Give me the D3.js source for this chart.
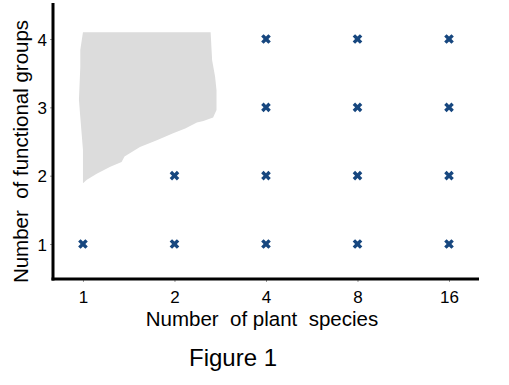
<!DOCTYPE html>
<html>
<head>
<meta charset="utf-8">
<script src="https://cdn.jsdelivr.net/npm/d3@7"></script>
<style>
  html, body { margin: 0; padding: 0; background: #fff; }
  svg { display: block; font-family: "Liberation Sans", Arial, sans-serif; }
</style>
</head>
<body>
<svg id="chart" width="509" height="385"></svg>
<script>
// ---- data ----
const speciesTicks = [1, 2, 4, 8, 16];
const groupTicks = [1, 2, 3, 4];
const pointSpecies = [1, 2, 4, 8, 16, 2, 4, 8, 16, 4, 8, 16, 4, 8, 16];
const pointGroups  = [1, 1, 1, 1, 1,  2, 2, 2, 2,  3, 3, 3,  4, 4, 4];
// gray region outline (species, groups)
const regionSpecies = [1.0, 2.63, 2.66, 2.72, 2.75, 2.75, 2.68, 2.49, 2.37, 2.17, 1.98, 1.75, 1.54, 1.37, 1.34, 1.23, 1.11, 1.03, 1.0, 1.0, 0.98, 0.97, 0.98, 0.98];
const regionGroups  = [4.10, 4.10, 3.69, 3.45, 3.25, 2.96, 2.85, 2.80, 2.78, 2.69, 2.62, 2.52, 2.42, 2.28, 2.20, 2.13, 2.03, 1.94, 1.89, 2.38, 2.86, 3.11, 3.59, 3.84];
const xTitle = "Number  of plant  species";
const yTitle = "Number  of functional groups";
const caption = "Figure 1";

// ---- layout ----
const svg = d3.select("#chart");
const mLeft = 53, mRight = 479, mTop = 3, mBottom = 279;

const x = d3.scaleLog().base(2).domain([0.797, 20.08]).range([mLeft, mRight]);
const y = d3.scaleLinear().domain([0.488, 4.527]).range([mBottom, mTop]);

// gray region
const region = regionSpecies.map((s, i) => [x(s), y(regionGroups[i])]);
svg.append("path")
  .attr("d", d3.line().curve(d3.curveLinearClosed)(region))
  .attr("fill", "#dcdcdc")
  .attr("stroke", "none");

// markers
const sym = d3.symbol().type(d3.symbolCross).size(58);
svg.append("g").selectAll("path")
  .data(pointSpecies.map((s, i) => ({s, g: pointGroups[i]})))
  .join("path")
  .attr("d", sym)
  .attr("transform", d => `translate(${x(d.s)},${y(d.g)}) rotate(45)`)
  .attr("fill", "#17477f");

// axes
const xAxis = svg.append("g").attr("transform", `translate(0,${mBottom})`)
  .call(d3.axisBottom(x).tickValues(speciesTicks).tickFormat(d3.format("d")).tickSize(3).tickSizeOuter(0));
const yAxis = svg.append("g").attr("transform", `translate(${mLeft},0)`)
  .call(d3.axisLeft(y).tickValues(groupTicks).tickFormat(d3.format("d")).tickSize(3).tickSizeOuter(0));

[xAxis, yAxis].forEach(a => {
  a.select(".domain").remove();
  a.selectAll(".tick line").attr("stroke", "#999").attr("stroke-width", 1);
  a.selectAll(".tick text").attr("fill", "#000").attr("font-size", 17)
    .attr("font-family", "'Liberation Sans', Arial, sans-serif");
});
xAxis.selectAll(".tick text").attr("dy", null).attr("y", 23.5);
yAxis.selectAll(".tick text").attr("x", -6).attr("dy", "0.36em");

// axis lines
svg.append("line").attr("x1", mLeft).attr("x2", mLeft).attr("y1", mTop).attr("y2", mBottom + 1.5)
  .attr("stroke", "#000").attr("stroke-width", 3);
svg.append("line").attr("x1", mLeft - 1.5).attr("x2", mRight).attr("y1", mBottom).attr("y2", mBottom)
  .attr("stroke", "#000").attr("stroke-width", 3);

// titles
svg.append("text").attr("x", 262).attr("y", 325.5).attr("text-anchor", "middle")
  .attr("font-size", 20.5).attr("fill", "#000").style("white-space", "pre").text(xTitle);
svg.append("text").attr("transform", "translate(28,151.5) rotate(-90)").attr("text-anchor", "middle")
  .attr("font-size", 20.5).attr("fill", "#000").style("white-space", "pre").text(yTitle);
svg.append("text").attr("x", 233).attr("y", 366).attr("text-anchor", "middle")
  .attr("font-size", 24).attr("fill", "#000").text(caption);
</script>
</body>
</html>
